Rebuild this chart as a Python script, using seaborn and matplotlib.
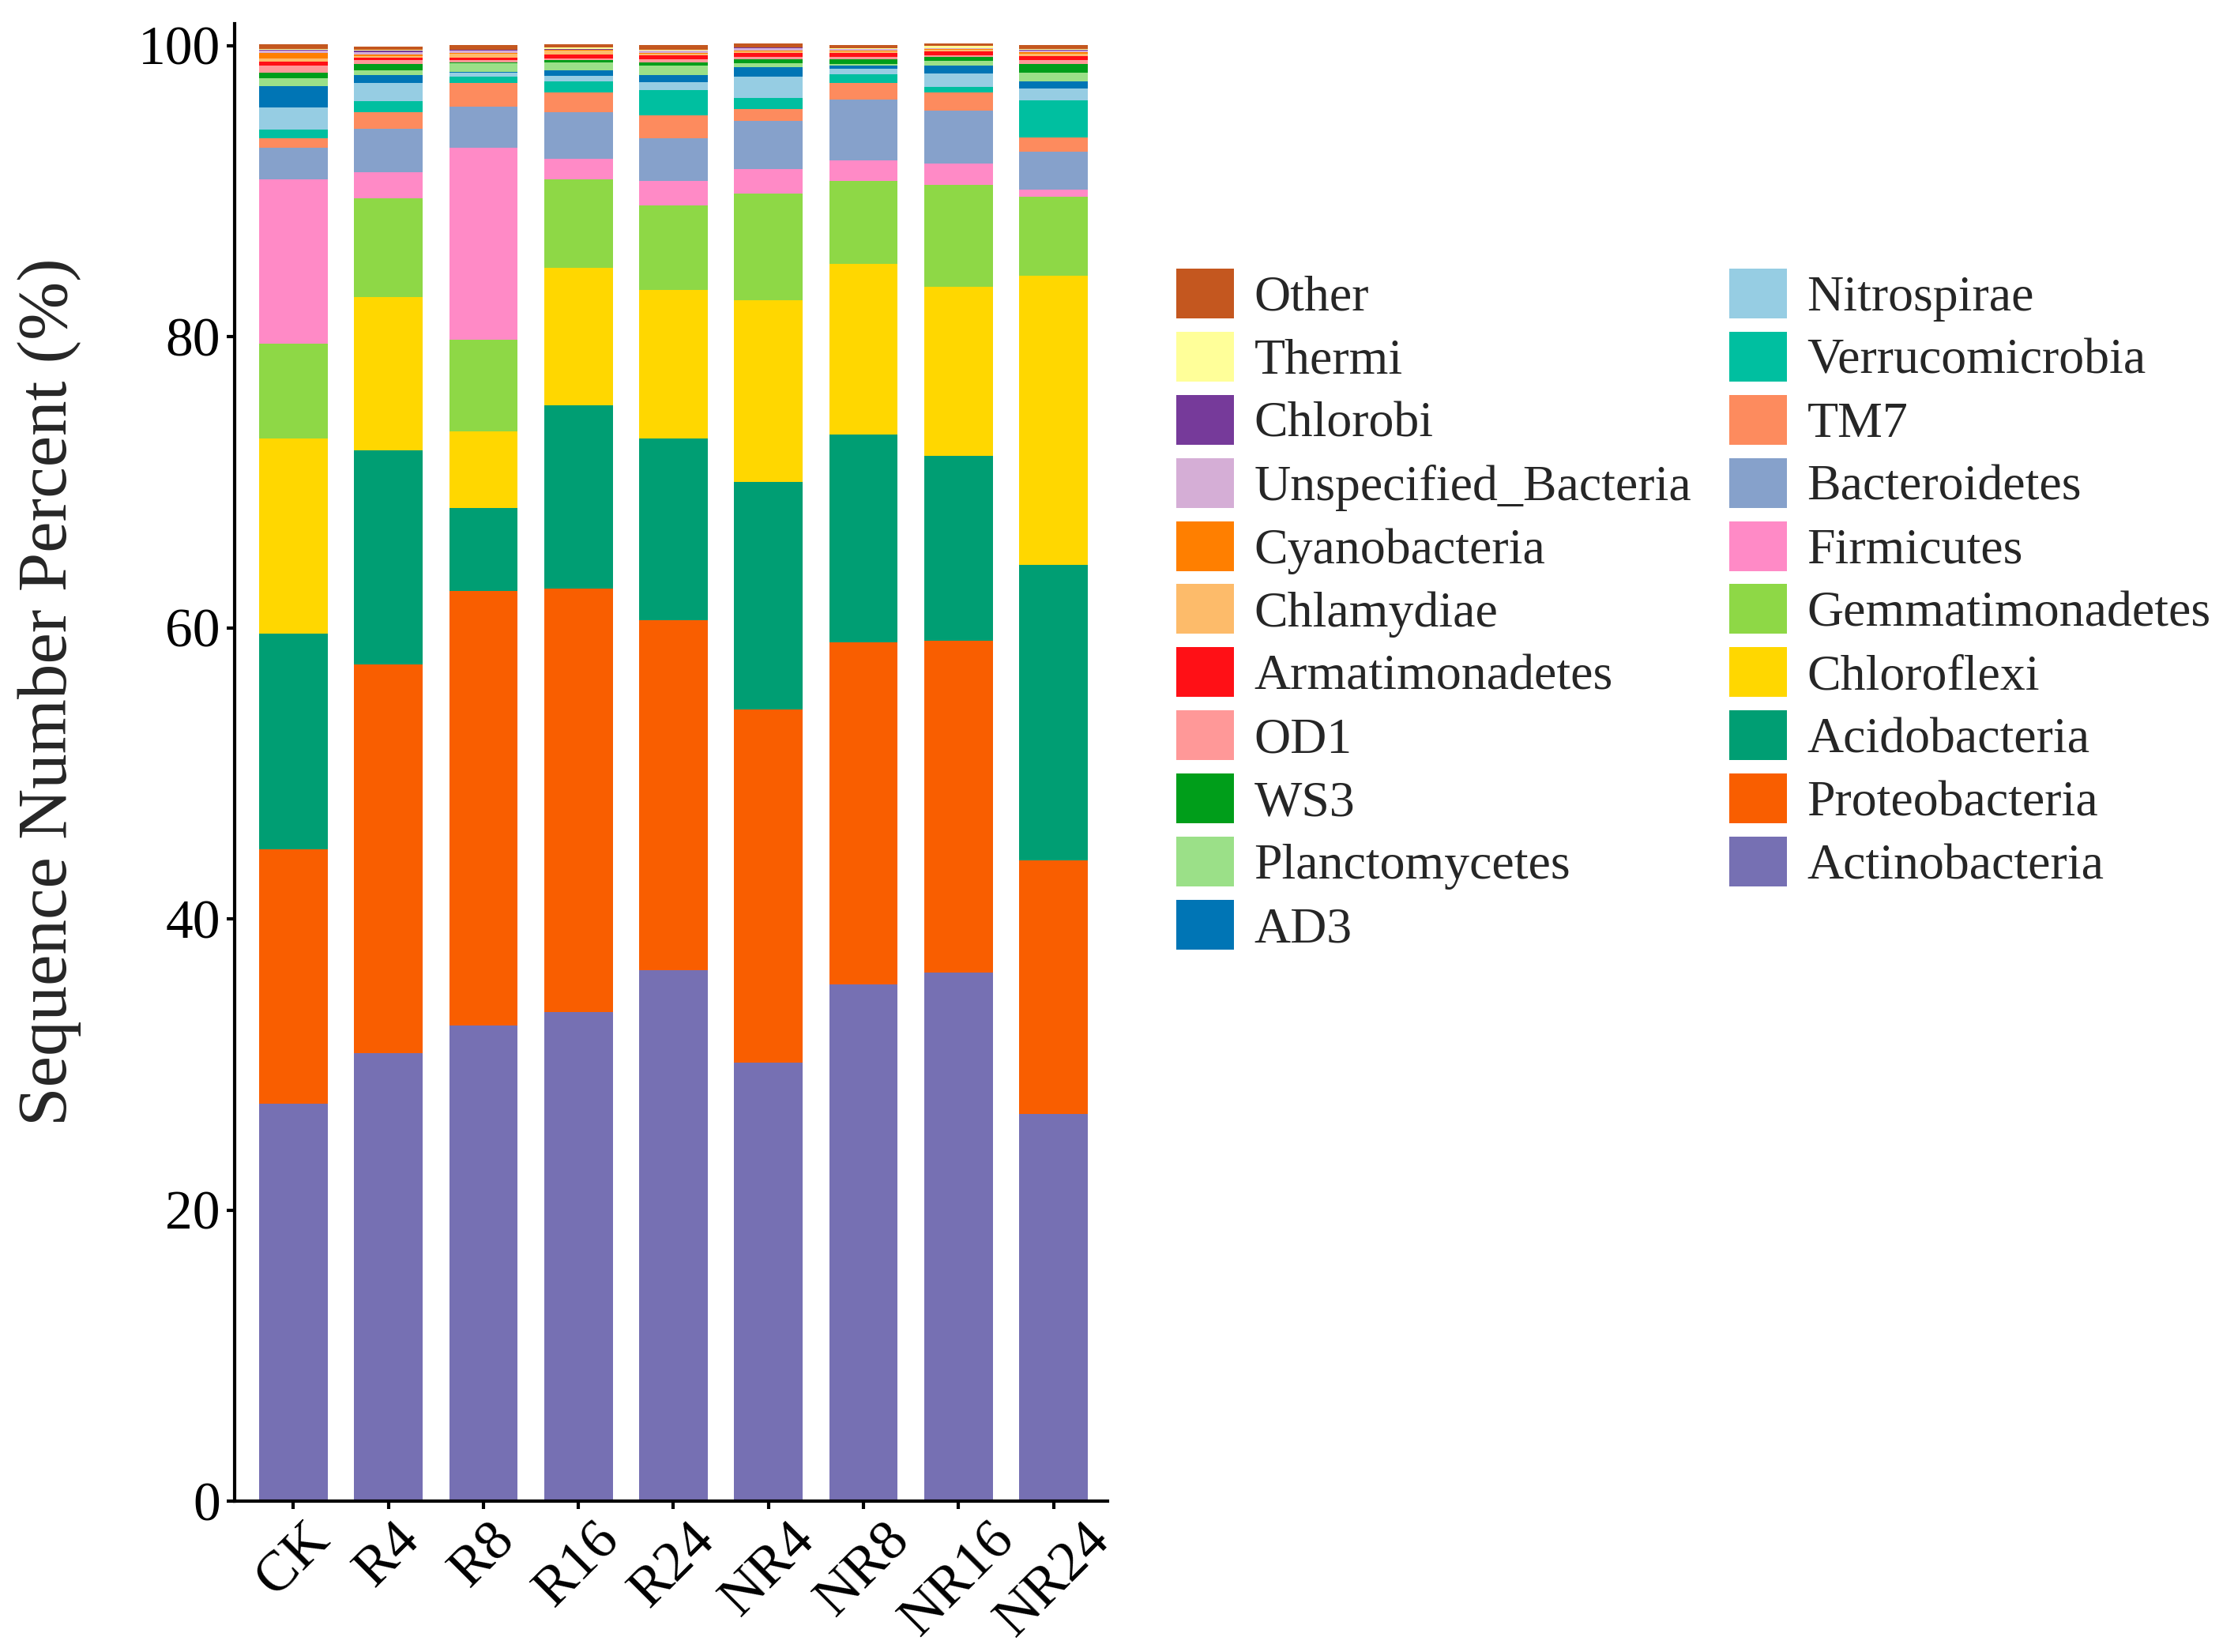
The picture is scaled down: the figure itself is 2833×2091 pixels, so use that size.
import numpy as np
import pandas as pd
import matplotlib
matplotlib.use("Agg")
import matplotlib.pyplot as plt
import seaborn as sns
from matplotlib.patches import Patch

sns.set_theme(style="ticks")
plt.rcParams['font.family'] = ['Liberation Serif', 'DejaVu Serif']

# ---------------------------------------------------------------------
# data (relative abundance, % of sequences), bottom of stack first
# ---------------------------------------------------------------------
samples = ['CK', 'R4', 'R8', 'R16', 'R24', 'NR4', 'NR8', 'NR16', 'NR24']

actinobacteria = [27.3, 30.8, 32.7, 33.6, 36.5, 30.1, 35.5, 36.3, 26.6]
proteobacteria = [17.5, 26.7, 29.8, 29.1, 24.0, 24.3, 23.5, 22.8, 17.4]
acidobacteria = [14.8, 14.7, 5.7, 12.6, 12.5, 15.6, 14.3, 12.7, 20.3]
chloroflexi = [13.4, 10.5, 5.3, 9.4, 10.2, 12.5, 11.7, 11.6, 19.9]
gemmatimonadetes = [6.5, 6.8, 6.3, 6.1, 5.8, 7.3, 5.7, 7.0, 5.4]
firmicutes = [11.3, 1.8, 13.2, 1.4, 1.7, 1.7, 1.4, 1.5, 0.5]
bacteroidetes = [2.2, 3.0, 2.8, 3.2, 2.9, 3.3, 4.2, 3.6, 2.6]
tm7 = [0.6, 1.1, 1.6, 1.35, 1.6, 0.86, 1.1, 1.3, 1.0]
verrucomicrobia = [0.6, 0.8, 0.45, 0.8, 1.75, 0.75, 0.6, 0.36, 2.55]
nitrospirae = [1.55, 1.2, 0.27, 0.36, 0.54, 1.45, 0.4, 0.9, 0.8]
ad3 = [1.45, 0.55, 0.05, 0.36, 0.5, 0.63, 0.2, 0.58, 0.5]
planctomycetes = [0.55, 0.35, 0.6, 0.55, 0.63, 0.27, 0.15, 0.32, 0.6]
ws3 = [0.4, 0.4, 0.05, 0.18, 0.23, 0.27, 0.3, 0.27, 0.55]
od1 = [0.45, 0.3, 0.18, 0.09, 0.22, 0.18, 0.15, 0.09, 0.32]
armatimonadetes = [0.3, 0.15, 0.18, 0.27, 0.23, 0.27, 0.3, 0.25, 0.25]
chlamydiae = [0.22, 0.13, 0.27, 0.27, 0.13, 0.13, 0.1, 0.14, 0.14]
cyanobacteria = [0.36, 0.1, 0.05, 0.05, 0.05, 0.04, 0.03, 0.04, 0.13]
unspecified_bacteria = [0.18, 0.15, 0.15, 0.05, 0.15, 0.18, 0.12, 0.05, 0.1]
chlorobi = [0.04, 0.12, 0.03, 0.03, 0.03, 0.03, 0.03, 0.03, 0.08]
thermi = [0.04, 0.03, 0.03, 0.1, 0.03, 0.03, 0.03, 0.15, 0.03]
other = [0.36, 0.23, 0.32, 0.23, 0.32, 0.23, 0.23, 0.15, 0.29]

phyla = ['Actinobacteria', 'Proteobacteria', 'Acidobacteria', 'Chloroflexi',
         'Gemmatimonadetes', 'Firmicutes', 'Bacteroidetes', 'TM7',
         'Verrucomicrobia', 'Nitrospirae', 'AD3', 'Planctomycetes', 'WS3',
         'OD1', 'Armatimonadetes', 'Chlamydiae', 'Cyanobacteria',
         'Unspecified_Bacteria', 'Chlorobi', 'Thermi', 'Other']
values = [actinobacteria, proteobacteria, acidobacteria, chloroflexi,
          gemmatimonadetes, firmicutes, bacteroidetes, tm7, verrucomicrobia,
          nitrospirae, ad3, planctomycetes, ws3, od1, armatimonadetes,
          chlamydiae, cyanobacteria, unspecified_bacteria, chlorobi, thermi,
          other]

colors = {
    'Actinobacteria': '#7670B3', 'Proteobacteria': '#F95E00',
    'Acidobacteria': '#009E73', 'Chloroflexi': '#FFD700',
    'Gemmatimonadetes': '#8ED846', 'Firmicutes': '#FF8AC6',
    'Bacteroidetes': '#86A1CB', 'TM7': '#FD8B5E',
    'Verrucomicrobia': '#00BFA0', 'Nitrospirae': '#96CDE3',
    'AD3': '#0075B5', 'Planctomycetes': '#9BE088', 'WS3': '#009E1A',
    'OD1': '#FF9898', 'Armatimonadetes': '#FF1016', 'Chlamydiae': '#FDBB6A',
    'Cyanobacteria': '#FF7F00', 'Unspecified_Bacteria': '#D5AED6',
    'Chlorobi': '#763A9A', 'Thermi': '#FFFF99', 'Other': '#C4571F',
}

# long table + cumulative heights for stacking
df = pd.DataFrame(dict(zip(phyla, values)), index=samples)
cum = df.cumsum(axis=1)
long = cum.reset_index().melt(id_vars='index', var_name='Phylum', value_name='Top')
long = long.rename(columns={'index': 'Sample'})

# ---------------------------------------------------------------------
# plot
# ---------------------------------------------------------------------
fig = plt.figure(figsize=(2833 / 200, 2091 / 200), dpi=200)
ax = fig.add_axes([0.1048, 0.0913, 0.3901, 0.8944])

# draw tallest cumulative first so lower layers sit on top of it
for name in phyla[::-1]:
    sub = long[long['Phylum'] == name]
    sns.barplot(data=sub, x='Sample', y='Top', order=samples,
                color=colors[name], saturation=1, width=0.72,
                linewidth=0, errorbar=None, ax=ax)

ax.set_xlim(-0.62, 8.57)
ax.set_ylim(0, 101.5)
ax.set_yticks([0, 20, 40, 60, 80, 100])
ax.set_xlabel('')
ax.set_ylabel('Sequence Number Percent (%)', fontsize=32)
ax.yaxis.set_label_coords(-0.175, 0.548)

for s in ['top', 'right']:
    ax.spines[s].set_visible(False)
for s in ['left', 'bottom']:
    ax.spines[s].set_linewidth(1.5)
    ax.spines[s].set_color('black')

ax.tick_params(axis='both', direction='out', length=3.5, width=1.5,
               color='black', labelsize=25, labelcolor='black')
ax.tick_params(axis='y', pad=3)
ax.tick_params(axis='x', pad=2, labelsize=26)
for lab in ax.get_xticklabels():
    lab.set_rotation(45)
    lab.set_ha('center')
    lab.set_va('top')

# legend: stack order reversed, two columns
handles = [Patch(facecolor=colors[n], edgecolor='none') for n in phyla[::-1]]
fig.legend(handles, phyla[::-1], loc='upper left',
           bbox_to_anchor=(0.5256, 0.8375), ncol=2, frameon=False,
           fontsize=23, handlelength=1.14, handleheight=1.14,
           handletextpad=0.4, labelspacing=0.2, columnspacing=0.75,
           borderpad=0, borderaxespad=0)

fig.savefig('out.png', dpi=200)
